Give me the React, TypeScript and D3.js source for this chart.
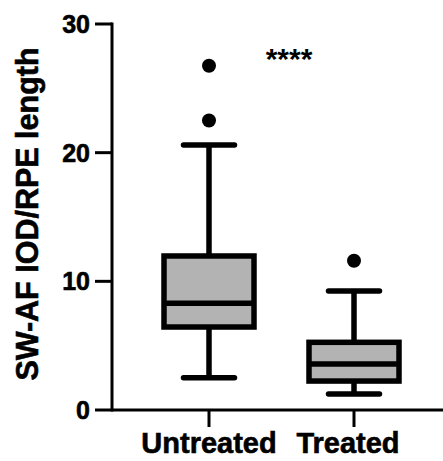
import * as d3 from "d3"
import { useRef, useEffect } from "react"

const categories = ["Untreated", "Treated"]
const mins = [2.5, 1.25]
const q1s = [6.45, 2.25]
const medians = [8.3, 3.57]
const q3s = [11.97, 5.26]
const maxs = [20.6, 9.25]
const outliers = [[22.5, 26.75], [11.6]]
const yTicks = [0, 10, 20, 30]
const significance = "****"

const width = 443
const height = 461
const font = "'Liberation Sans', Arial, Helvetica, sans-serif"

export default function App() {
  const svgRef = useRef<SVGSVGElement>(null)

  useEffect(() => {
    if (!svgRef.current) return
    const svg = d3.select(svgRef.current)
    svg.selectAll("*").remove()

    const y = d3.scaleLinear().domain([0, 30]).range([410, 24])
    const x = d3.scalePoint<string>().domain(categories).range([209, 354])
    const axisLeft = 112
    const axisRight = 443

    const boxHalf = 45
    const capHalf = 25.5
    const sw = 5.5

    // axes
    svg.append("line")
      .attr("x1", axisLeft).attr("x2", axisLeft)
      .attr("y1", y(30) - 1.5).attr("y2", y(0) + 1.5)
      .attr("stroke", "#000").attr("stroke-width", 3)
    svg.append("line")
      .attr("x1", axisLeft).attr("x2", axisRight)
      .attr("y1", y(0)).attr("y2", y(0))
      .attr("stroke", "#000").attr("stroke-width", 3)

    const yt = svg.append("g")
    yt.selectAll("line").data(yTicks).enter().append("line")
      .attr("x1", 95).attr("x2", axisLeft)
      .attr("y1", (d) => y(d)).attr("y2", (d) => y(d))
      .attr("stroke", "#000").attr("stroke-width", 3)
    yt.selectAll("text").data(yTicks).enter().append("text")
      .attr("x", 90).attr("y", (d) => y(d))
      .attr("dy", "0.36em")
      .attr("text-anchor", "end")
      .attr("stroke", "#000").attr("stroke-width", 0.6)
      .style("font-family", font).style("font-weight", "700").style("font-size", "25px")
      .text((d) => d)

    const xt = svg.append("g")
    xt.selectAll("line").data(categories).enter().append("line")
      .attr("x1", (d) => x(d)!).attr("x2", (d) => x(d)!)
      .attr("y1", y(0)).attr("y2", 427)
      .attr("stroke", "#000").attr("stroke-width", 3)
    xt.selectAll("text").data(categories).enter().append("text")
      .attr("x", (d, i) => x(d)! + (i === 1 ? -6 : 0)).attr("y", 453)
      .attr("text-anchor", "middle")
      .attr("stroke", "#000").attr("stroke-width", 0.6)
      .style("font-family", font).style("font-weight", "700").style("font-size", "29px")
      .text((d) => d)

    svg.append("text")
      .attr("transform", `translate(38,214) rotate(-90)`)
      .attr("text-anchor", "middle")
      .attr("stroke", "#000").attr("stroke-width", 0.6)
      .style("font-family", font).style("font-weight", "700").style("font-size", "30.5px")
      .text("SW-AF IOD/RPE length")

    // boxes
    const g = svg.append("g")
    categories.forEach((c, i) => {
      const cx = x(c)!
      g.append("line")
        .attr("x1", cx).attr("x2", cx).attr("y1", y(maxs[i])).attr("y2", y(q3s[i]))
        .attr("stroke", "#000").attr("stroke-width", sw)
      g.append("line")
        .attr("x1", cx).attr("x2", cx).attr("y1", y(q1s[i])).attr("y2", y(mins[i]))
        .attr("stroke", "#000").attr("stroke-width", sw)
      ;[maxs[i], mins[i]].forEach((v) => {
        g.append("line")
          .attr("x1", cx - capHalf).attr("x2", cx + capHalf)
          .attr("y1", y(v)).attr("y2", y(v))
          .attr("stroke", "#000").attr("stroke-width", sw).attr("stroke-linecap", "round")
      })
      g.append("rect")
        .attr("x", cx - boxHalf).attr("y", y(q3s[i]))
        .attr("width", boxHalf * 2).attr("height", y(q1s[i]) - y(q3s[i]))
        .attr("fill", "#b3b3b3").attr("stroke", "#000").attr("stroke-width", sw)
      g.append("line")
        .attr("x1", cx - boxHalf).attr("x2", cx + boxHalf)
        .attr("y1", y(medians[i])).attr("y2", y(medians[i]))
        .attr("stroke", "#000").attr("stroke-width", sw)
      g.selectAll(null).data(outliers[i]).enter().append("circle")
        .attr("cx", cx).attr("cy", (d) => y(d)).attr("r", 7).attr("fill", "#000")
    })

    svg.append("text")
      .attr("x", 289).attr("y", 69)
      .attr("text-anchor", "middle")
      .style("font-family", font).style("font-weight", "700").style("font-size", "30px")
      .text(significance)
  }, [])

  return (
    <svg ref={svgRef} width={width} height={height} style={{ position: "absolute", left: 0, top: 0, background: "#fff" }}></svg>
  )
}
